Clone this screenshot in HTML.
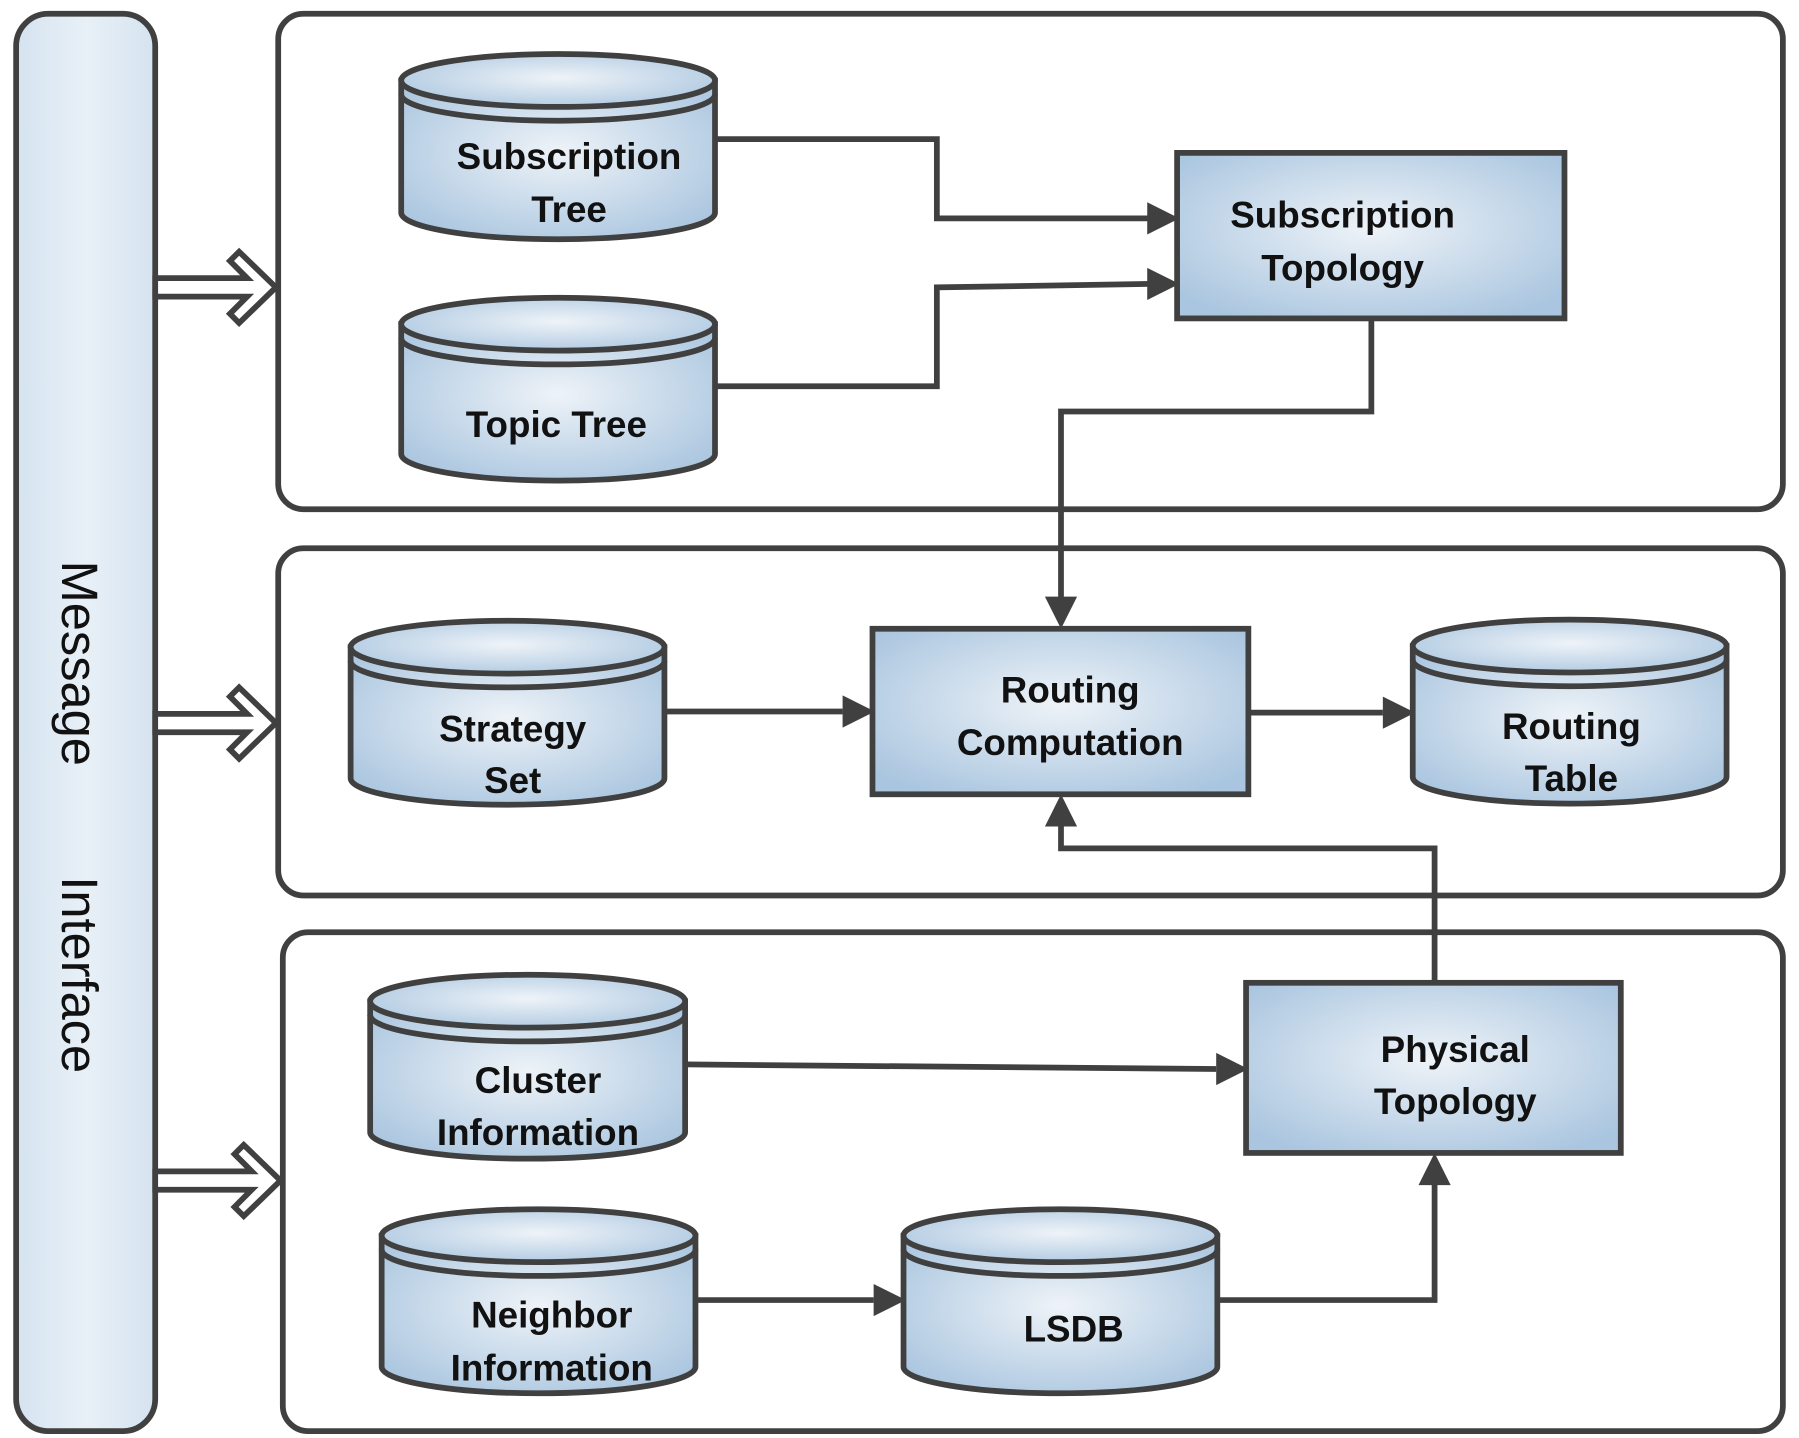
<!DOCTYPE html>
<html><head><meta charset="utf-8"><style>
html,body{margin:0;padding:0;background:#fff;}
svg{display:block;}
text{font-family:"Liberation Sans",sans-serif;}
</style></head><body>
<svg width="1799" height="1438" viewBox="0 0 1565 1251" xmlns="http://www.w3.org/2000/svg">
<defs>
<radialGradient id="g" cx="50%" cy="45%" r="65%">
<stop offset="0" stop-color="#eef3f8"/><stop offset="1" stop-color="#a9c5df"/>
</radialGradient>
<linearGradient id="bar" x1="0" x2="1"><stop offset="0" stop-color="#d5e3f0"/><stop offset="0.5" stop-color="#e8f0f7"/><stop offset="1" stop-color="#d5e3f0"/></linearGradient>
</defs>
<g fill="none" stroke="#404040" stroke-width="5">
<rect x="14" y="12" width="121" height="1233" rx="28" fill="url(#bar)"/>
<rect x="242" y="12" width="1309" height="431" rx="22"/>
<rect x="242" y="477" width="1309" height="302" rx="22"/>
<rect x="246" y="811" width="1305" height="434" rx="22"/>
</g>
<text transform="translate(54,577) rotate(90)" font-size="44" text-anchor="middle" fill="#111">Message</text>
<text transform="translate(54,848) rotate(90)" font-size="44" text-anchor="middle" fill="#111">Interface</text>
<g fill="#fff" stroke="#404040" stroke-width="5" stroke-linejoin="miter">
<polygon points="135,242 215,242 200,227 208,219 240,250 208,281 200,273 215,258 135,258"/>
<polygon points="135,621 215,621 200,606 208,598 240,629 208,660 200,652 215,637 135,637"/>
<polygon points="135,1019 219,1019 204,1004 212,996 244,1027 212,1058 204,1050 219,1035 135,1035"/>
</g>
<g stroke="#404040" stroke-width="5">
<path d="M349,70 L349,185 A136,23 0 0 0 622,185 L622,70 Z" fill="url(#g)"/>
<ellipse cx="485.5" cy="70" rx="136.5" ry="23" fill="url(#g)"/><path d="M349,82 A136.5,23 0 0 0 622,82" fill="none"/>
<path d="M349,282 L349,395 A136,23 0 0 0 622,395 L622,282 Z" fill="url(#g)"/>
<ellipse cx="485.5" cy="282" rx="136.5" ry="23" fill="url(#g)"/><path d="M349,294 A136.5,23 0 0 0 622,294" fill="none"/>
<path d="M305,563 L305,677 A136,23 0 0 0 578,677 L578,563 Z" fill="url(#g)"/>
<ellipse cx="441.5" cy="563" rx="136.5" ry="23" fill="url(#g)"/><path d="M305,575 A136.5,23 0 0 0 578,575" fill="none"/>
<path d="M1229,562 L1229,676 A136,23 0 0 0 1502,676 L1502,562 Z" fill="url(#g)"/>
<ellipse cx="1365.5" cy="562" rx="136.5" ry="23" fill="url(#g)"/><path d="M1229,574 A136.5,23 0 0 0 1502,574" fill="none"/>
<path d="M322,871 L322,985 A137,23 0 0 0 596,985 L596,871 Z" fill="url(#g)"/>
<ellipse cx="459" cy="871" rx="137" ry="23" fill="url(#g)"/><path d="M322,883 A137,23 0 0 0 596,883" fill="none"/>
<path d="M332,1075 L332,1189 A136,23 0 0 0 605,1189 L605,1075 Z" fill="url(#g)"/>
<ellipse cx="468.5" cy="1075" rx="136.5" ry="23" fill="url(#g)"/><path d="M332,1087 A136.5,23 0 0 0 605,1087" fill="none"/>
<path d="M786,1075 L786,1189 A136,23 0 0 0 1059,1189 L1059,1075 Z" fill="url(#g)"/>
<ellipse cx="922.5" cy="1075" rx="136.5" ry="23" fill="url(#g)"/><path d="M786,1087 A136.5,23 0 0 0 1059,1087" fill="none"/>
<rect x="1024" y="133" width="337" height="144" fill="url(#g)"/>
<rect x="759" y="547" width="327" height="144" fill="url(#g)"/>
<rect x="1084" y="855" width="326" height="148" fill="url(#g)"/>
</g>
<g fill="none" stroke="#404040" stroke-width="5">
<path d="M622,121 H815 V190 H1000"/>
<path d="M622,336 H815 V250 L1000,247"/>
<path d="M1193,277 V358 H923 V520"/>
<path d="M578,619 H733"/>
<path d="M1086,620 H1203"/>
<path d="M1248,855 V738 H923 V718"/>
<path d="M596,926 L1058,930"/>
<path d="M605,1131 H760"/>
<path d="M1059,1131 H1248 V1030"/>
</g>
<g fill="#404040">
<polygon points="1026,190 998,176 998,204"/>
<polygon points="1026,247 998,233 998,261"/>
<polygon points="923,547 909,519 937,519"/>
<polygon points="761,619 733,605 733,633"/>
<polygon points="1231,620 1203,606 1203,634"/>
<polygon points="923,691 909,719 937,719"/>
<polygon points="1086,930 1058,916 1058,944"/>
<polygon points="788,1131 760,1117 760,1145"/>
<polygon points="1248,1003 1234,1031 1262,1031"/>
</g>
<g font-size="32" font-weight="bold" text-anchor="middle" fill="#111">
<text x="495" y="147">Subscription</text><text x="495" y="193">Tree</text>
<text x="484" y="380">Topic Tree</text>
<text x="1168" y="198">Subscription</text><text x="1168" y="244">Topology</text>
<text x="446" y="645">Strategy</text><text x="446" y="690">Set</text>
<text x="931" y="611">Routing</text><text x="931" y="657">Computation</text>
<text x="1367" y="643">Routing</text><text x="1367" y="688">Table</text>
<text x="1266" y="924">Physical</text><text x="1266" y="969">Topology</text>
<text x="468" y="951">Cluster</text><text x="468" y="996">Information</text>
<text x="480" y="1155">Neighbor</text><text x="480" y="1201">Information</text>
<text x="934" y="1167">LSDB</text>
</g>
</svg>
</body></html>
